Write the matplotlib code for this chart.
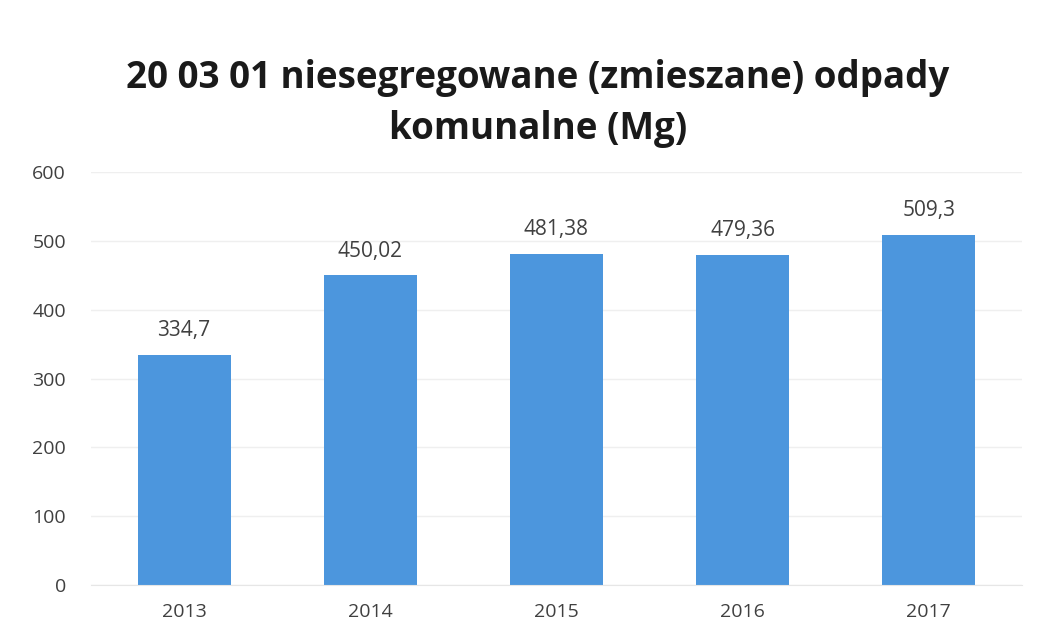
import matplotlib.pyplot as plt

# Data
years = ['2013', '2014', '2015', '2016', '2017']
values = [334.7, 450.02, 481.38, 479.36, 509.3]
labels = ['334,7', '450,02', '481,38', '479,36', '509,3']
y_ticks = [0, 100, 200, 300, 400, 500, 600]

plt.rcParams['font.family'] = ['Open Sans', 'DejaVu Sans']

fig = plt.figure(figsize=(10.46, 6.33), dpi=100)
ax = fig.add_axes([0.087, 0.076, 0.89, 0.652])

x = range(len(years))
ax.bar(x, values, width=0.5, color='#4c96dd', zorder=2)

for i, (v, lab) in enumerate(zip(values, labels)):
    ax.text(i, v + 20, lab, ha='center', va='bottom', fontsize=15, color='#404040')

ax.set_xlim(-0.5, len(years) - 0.5)
ax.set_ylim(0, 600)
ax.set_yticks(y_ticks)
ax.set_xticks(list(x))
ax.set_xticklabels(years)
ax.tick_params(axis='both', length=0, labelsize=14, labelcolor='#404040')
ax.tick_params(axis='y', pad=18)
ax.tick_params(axis='x', pad=13)
ax.grid(axis='y', color='#efefef', linewidth=1, zorder=0)
for s in ax.spines.values():
    s.set_visible(False)
ax.spines['bottom'].set_visible(True)
ax.spines['bottom'].set_color('#e6e6e6')

fig.text(0.514, 0.837, '20 03 01 niesegregowane (zmieszane) odpady\nkomunalne (Mg)',
         ha='center', va='center', fontsize=26.5, fontweight='bold', color='#1a1a1a',
         linespacing=1.45)

fig.savefig('out.png', dpi=100)
